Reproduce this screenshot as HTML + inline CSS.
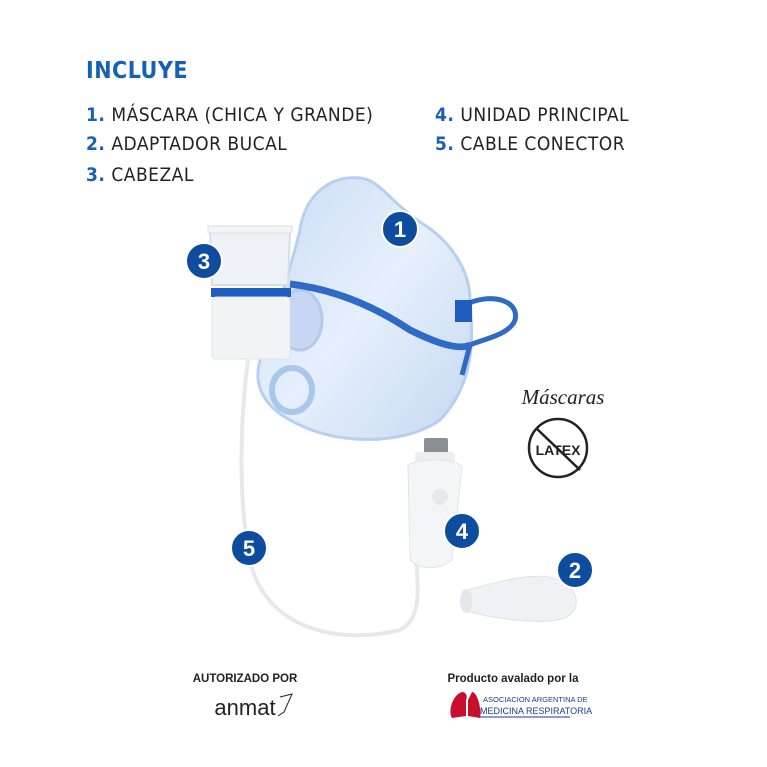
<!DOCTYPE html>
<html><head><meta charset="utf-8"><style>
html,body{margin:0;padding:0;background:#fff;}
body{width:767px;height:767px;position:relative;overflow:hidden;font-family:"Liberation Sans",sans-serif;}
.t{position:absolute;font-family:"DejaVu Sans Condensed","Liberation Sans",sans-serif;font-size:19px;color:#222;letter-spacing:0.5px;white-space:nowrap}
.t b{color:#1760b8}
</style></head><body>
<div class="t" style="left:86px;top:58px;font-size:23px;font-weight:bold;color:#1760b8">INCLUYE</div>
<div class="t" style="left:86px;top:104px"><b>1.</b> MÁSCARA (CHICA Y GRANDE)</div>
<div class="t" style="left:86px;top:133px"><b>2.</b> ADAPTADOR BUCAL</div>
<div class="t" style="left:86px;top:164px"><b>3.</b> CABEZAL</div>
<div class="t" style="left:435px;top:104px"><b>4.</b> UNIDAD PRINCIPAL</div>
<div class="t" style="left:435px;top:133px"><b>5.</b> CABLE CONECTOR</div>
<svg width="767" height="767" style="position:absolute;left:0;top:0">
<defs>
<linearGradient id="m" x1="0" y1="0" x2="1" y2="1"><stop offset="0" stop-color="#c9dcf5"/><stop offset="0.5" stop-color="#e6effb"/><stop offset="1" stop-color="#c5d9f2"/></linearGradient>
</defs>
<!-- mask -->
<path d="M300,230 C305,195 330,175 360,178 C380,180 388,200 420,222 C450,240 470,270 470,300 C472,330 478,380 440,420 C405,445 340,445 300,425 C265,410 250,385 262,355 C275,320 290,270 300,230Z" fill="url(#m)" stroke="#b9cfee" stroke-width="3"/>
<ellipse cx="292" cy="390" rx="20" ry="22" fill="none" stroke="#a9c7ea" stroke-width="6"/>
<ellipse cx="300" cy="320" rx="22" ry="30" fill="#c7d6f2" stroke="#b6cbe9" stroke-width="3"/>
<!-- strap -->
<path d="M290,284 C340,290 380,310 410,330 C440,345 460,350 470,345" fill="none" stroke="#2f6ac7" stroke-width="7"/>
<path d="M465,305 C490,292 520,300 515,320 C510,335 480,340 470,345 L462,375" fill="none" stroke="#2f6ac7" stroke-width="5"/>
<rect x="455" y="300" width="17" height="22" fill="#1f5cbf"/>
<!-- cup -->
<path d="M210,230 L290,230 L288,285 L212,285Z" fill="#eef2f7" stroke="#d5dde8" stroke-width="2"/>
<rect x="208" y="226" width="84" height="7" fill="#f3f5f8" stroke="#d8dee6"/>
<rect x="211" y="288" width="80" height="9" fill="#1f5cbf"/>
<rect x="212" y="297" width="78" height="62" rx="4" fill="#f2f3f5" stroke="#e0e3e8"/>
<!-- cable -->
<path d="M248,360 C240,420 238,500 250,560 C265,630 340,645 400,630 C418,620 420,600 416,560" fill="none" stroke="#e6e8eb" stroke-width="4"/>
<!-- device -->
<rect x="424" y="438" width="24" height="18" rx="2" fill="#8a8f96"/>
<rect x="415" y="452" width="40" height="12" rx="4" fill="#eceef1"/>
<path d="M408,465 C420,458 450,458 462,466 L452,560 C440,570 420,570 410,560Z" fill="#f4f5f7" stroke="#e2e4e8"/>
<circle cx="440" cy="497" r="8" fill="#e6e8ec"/>
<!-- mouthpiece -->
<path d="M468,590 C520,575 545,572 565,582 C580,595 580,610 565,618 C545,625 500,620 470,612 C460,605 460,595 468,590Z" fill="#eff1f4" stroke="#dfe2e6"/>
<ellipse cx="466" cy="601" rx="6" ry="12" fill="#e3e6ea"/>
<!-- badges -->
<g font-family="Liberation Sans" font-weight="bold" font-size="22" fill="#fff" text-anchor="middle">
<circle cx="400" cy="229" r="18" fill="#0d4c9f" stroke="#fff" stroke-width="2"/><text x="400" y="237">1</text>
<circle cx="204" cy="261" r="18" fill="#0d4c9f" stroke="#fff" stroke-width="2"/><text x="204" y="269">3</text>
<circle cx="249" cy="548" r="18" fill="#0d4c9f" stroke="#fff" stroke-width="2"/><text x="249" y="556">5</text>
<circle cx="462" cy="531" r="18" fill="#0d4c9f" stroke="#fff" stroke-width="2"/><text x="462" y="539">4</text>
<circle cx="575" cy="570" r="18" fill="#0d4c9f" stroke="#fff" stroke-width="2"/><text x="575" y="578">2</text>
</g>
<text x="563" y="404" text-anchor="middle" font-family="Liberation Serif" font-style="italic" font-size="21" fill="#222">Máscaras</text>
<circle cx="558" cy="448" r="29" fill="none" stroke="#222" stroke-width="2.5"/>
<text x="558" y="455" text-anchor="middle" font-family="Liberation Sans" font-weight="bold" font-size="14" fill="#222">LATEX</text>
<line x1="536" y1="428" x2="580" y2="470" stroke="#222" stroke-width="2.5"/>
<!-- footer -->
<text x="245" y="682" text-anchor="middle" font-family="Liberation Sans" font-weight="bold" font-size="11.5" fill="#222">AUTORIZADO POR</text>
<text x="245" y="715" text-anchor="middle" font-family="Liberation Sans" font-size="22" fill="#222">anmat</text>
<path d="M280,697 L292,694 L284,712 L278,716" fill="none" stroke="#222" stroke-width="1"/>
<text x="513" y="682" text-anchor="middle" font-family="Liberation Sans" font-weight="bold" font-size="11.5" fill="#222">Producto avalado por la</text>
<path d="M462,692 C452,695 448,712 452,718 L466,716 L466,700 C468,696 466,692 462,692Z M472,692 C478,692 482,712 480,718 L468,716 L468,700Z" fill="#c8102e"/>
<text x="483" y="702" font-family="Liberation Sans Narrow,Liberation Sans" font-size="7.5" fill="#1a3d8f">ASOCIACION ARGENTINA DE</text>
<text x="480" y="714" font-family="Liberation Sans Narrow,Liberation Sans" font-size="9" fill="#1a3d8f">MEDICINA RESPIRATORIA</text>
<line x1="480" y1="717" x2="570" y2="717" stroke="#1a3d8f" stroke-width="1"/>
</svg>
</body></html>
